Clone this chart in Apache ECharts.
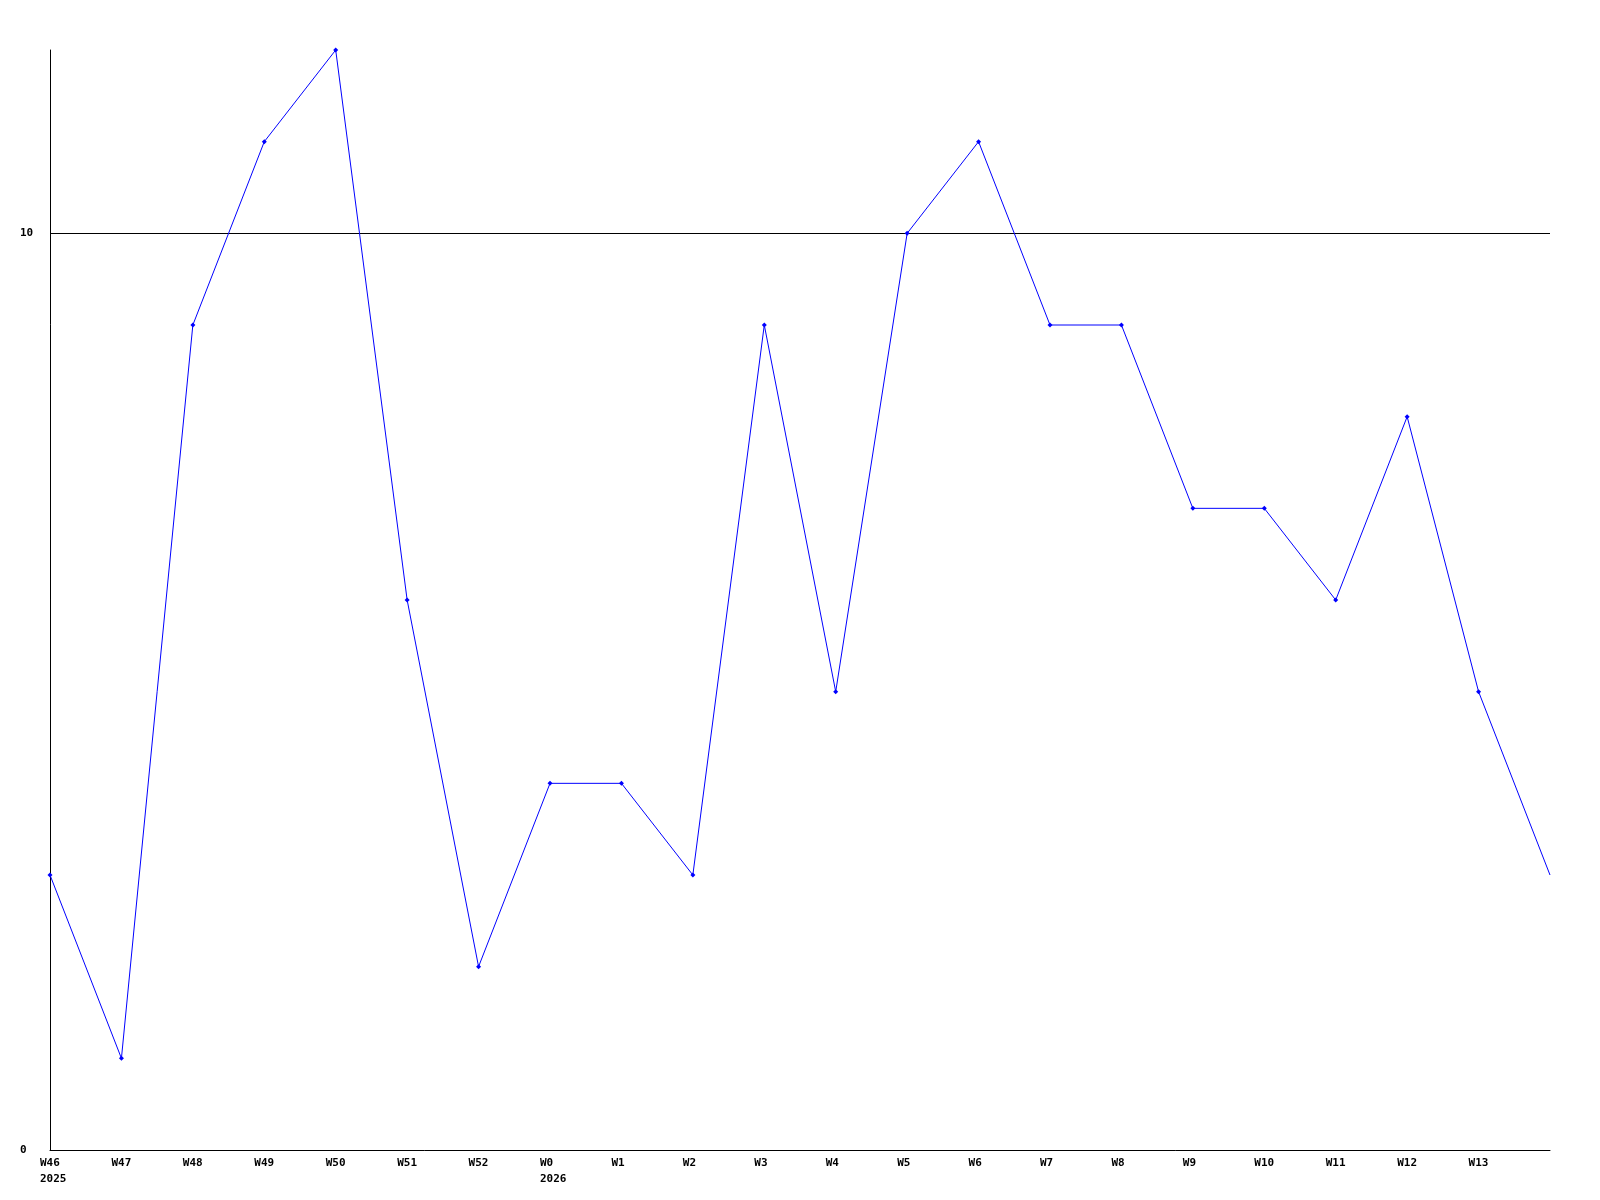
<!DOCTYPE html>
<html>
<head>
<meta charset="utf-8">
<script src="https://cdn.jsdelivr.net/npm/echarts@6/dist/echarts.min.js"></script>
<style>html,body{margin:0;padding:0;background:#fff;}#c{width:1600px;height:1200px;}</style>
</head>
<body>
<div id="c"></div>
<script>
const weeks = ['W46','W47','W48','W49','W50','W51','W52','W0','W1','W2','W3','W4','W5','W6','W7','W8','W9','W10','W11','W12','W13',''];
const years = {'W46':'2025','W0':'2026'};
const values = [3,1,9,11,12,6,2,4,4,3,9,5,10,11,9,9,7,7,6,8,5,3];
const yTicks = [0,10];

const font = {fontFamily:'DejaVu Sans Mono', fontWeight:'bold', fontSize:11, color:'#000'};
const chart = echarts.init(document.getElementById('c'), null, {renderer:'canvas'});
chart.setOption({
  animation:false,
  backgroundColor:'#fff',
  grid:[
    {left:50, right:50, top:50, bottom:50},
    {left:40, right:60, top:50, bottom:50}
  ],
  xAxis:[
    {type:'category', gridIndex:0, data:weeks, boundaryGap:false,
     axisLine:{lineStyle:{color:'#000',width:1}}, axisTick:{show:false}, axisLabel:{show:false}},
    {type:'category', gridIndex:1, data:weeks, boundaryGap:false,
     axisLine:{show:false}, axisTick:{show:false},
     axisLabel:Object.assign({interval:0, align:'left', margin:5, lineHeight:16,
       formatter:function(v){return years[v] ? v+'\n'+years[v] : v;}}, font)}
  ],
  yAxis:[
    {type:'value', gridIndex:0, min:0, max:12, interval:10,
     axisLine:{show:true, lineStyle:{color:'#000',width:1}}, axisTick:{show:false},
     axisLabel:Object.assign({align:'left', margin:30, showMaxLabel:false, padding:[3,0,0,0],
       formatter:function(v){return yTicks.indexOf(v)>=0 ? String(v) : '';}}, font),
     splitLine:{show:true, showMinLine:false, showMaxLine:false, lineStyle:{color:'#000',width:1}}},
    {type:'value', gridIndex:1, min:0, max:12, show:false}
  ],
  series:[{
    type:'line', xAxisIndex:0, yAxisIndex:0,
    data:values.map(function(v,i){return i===values.length-1 ? {value:v, symbol:'none'} : v;}),
    symbol:'diamond', symbolSize:5, showAllSymbol:true,
    lineStyle:{color:'#0000ff', width:1}, itemStyle:{color:'#0000ff'}
  }]
});
</script>
</body>
</html>
